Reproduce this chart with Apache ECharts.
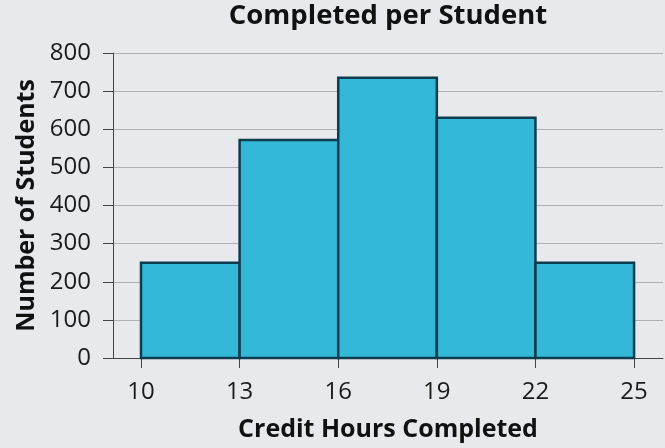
<!DOCTYPE html>
<html><head><meta charset="utf-8">
<script src="https://cdn.jsdelivr.net/npm/echarts@6/dist/echarts.min.js"></script>
<style>html,body{margin:0;padding:0;background:#e7e9ec;}#c{width:665px;height:448px;}</style>
</head><body><div id="c"></div>
<script>
const binEdges = [10, 13, 16, 19, 22, 25];
const counts = [250, 572, 735, 630, 250];
const xTicks = [10, 13, 16, 19, 22, 25];
const titleText = 'Completed per Student';
const xName = 'Credit Hours Completed';
const yName = 'Number of Students';

const data = counts.map((c, i) => [binEdges[i], binEdges[i + 1], c]);
const chart = echarts.init(document.getElementById('c'));
const font = '"Open Sans", sans-serif';
chart.setOption({
  backgroundColor: '#e7e9ec',
  animation: false,
  title: { text: titleText, left: 388, top: 2, padding: 0, textAlign: 'center',
    textStyle: { fontFamily: font, fontWeight: 'bold', fontSize: 27.5, color: '#111' } },
  grid: { left: 113, right: 2, top: 53, bottom: 90, containLabel: false, outerBoundsMode: 'none' },
  xAxis: { type: 'value', min: 9.148, max: 25.88,
    name: xName, nameLocation: 'middle', nameGap: 59,
    nameTextStyle: { fontFamily: font, fontWeight: 'bold', fontSize: 25, color: '#111' },
    axisLine: { show: true, lineStyle: { color: '#444', width: 1 } },
    axisTick: { show: true, length: 10, customValues: xTicks, lineStyle: { color: '#444' } },
    axisLabel: { customValues: xTicks, margin: 22, fontFamily: font, fontSize: 24, color: '#1a1a1a' },
    splitLine: { show: false } },
  yAxis: { type: 'value', min: 0, max: 800, interval: 100,
    name: yName, nameLocation: 'middle', nameGap: 74, nameRotate: 90,
    nameTextStyle: { fontFamily: font, fontWeight: 'bold', fontSize: 25, color: '#111' },
    axisLine: { show: true, lineStyle: { color: '#444', width: 1 } },
    axisTick: { show: true, length: 10, lineStyle: { color: '#444' } },
    axisLabel: { margin: 22, fontFamily: font, fontSize: 24, color: '#1a1a1a' },
    splitLine: { show: true, lineStyle: { color: '#aeb0b3', width: 1 } } },
  series: [{
    type: 'custom',
    data: data,
    encode: { x: [0, 1], y: 2 },
    renderItem: function (params, api) {
      const p0 = api.coord([api.value(0), 0]);
      const p1 = api.coord([api.value(1), api.value(2)]);
      return { type: 'rect',
        shape: { x: p0[0], y: p1[1], width: p1[0] - p0[0], height: p0[1] - p1[1] },
        style: { fill: '#33b8d8', stroke: '#0e3c4f', lineWidth: 2.5 } };
    }
  }]
});
</script></body></html>
